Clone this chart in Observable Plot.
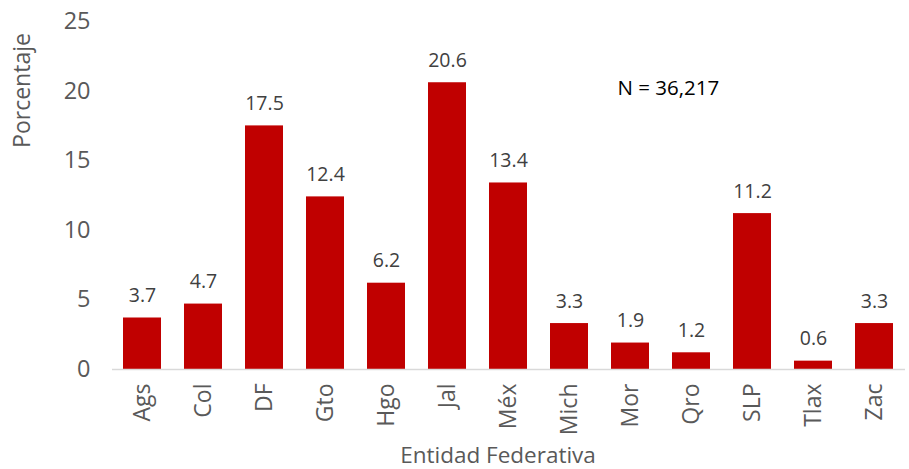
<!DOCTYPE html>
<html>
<head>
<meta charset="utf-8">
<script src="https://cdn.jsdelivr.net/npm/d3@7"></script>
<script src="https://cdn.jsdelivr.net/npm/@observablehq/plot@0.6"></script>
<style>
  html, body { margin: 0; padding: 0; background: #fff; }
  #chart svg { display: block; }
</style>
</head>
<body>
<div id="chart"></div>
<script>
const estados = ["Ags", "Col", "DF", "Gto", "Hgo", "Jal", "Méx", "Mich", "Mor", "Qro", "SLP", "Tlax", "Zac"];
const porcentajes = [3.7, 4.7, 17.5, 12.4, 6.2, 20.6, 13.4, 3.3, 1.9, 1.2, 11.2, 0.6, 3.3];
const yTicks = [0, 5, 10, 15, 20, 25];
const nLabel = "N = 36,217";
const xTitle = "Entidad Federativa";
const yTitle = "Porcentaje";

const data = estados.map((e, i) => ({estado: e, valor: porcentajes[i]}));
const font = "'Open Sans', 'Noto Sans', sans-serif";

const chart = Plot.plot({
  width: 909,
  height: 469,
  marginLeft: 112,
  marginRight: 4,
  marginTop: 21,
  marginBottom: 100,
  style: {fontFamily: font, background: "#fff"},
  x: {domain: estados, paddingInner: 0.377, paddingOuter: 0.18, label: null},
  y: {domain: [0, 25], label: null},
  marks: [
    Plot.barY(data, {x: "estado", y: "valor", fill: "#C00000"}),
    Plot.ruleY([0], {stroke: "#d9d9d9", strokeWidth: 1.5}),
    Plot.text(data, {x: "estado", y: "valor", text: d => d.valor.toFixed(1), dy: -22,
      fontSize: 19.5, fill: "#404040"}),
    Plot.axisY(yTicks, {tickSize: 0, tickPadding: 22, fontSize: 23.5, color: "#595959", label: null}),
    Plot.axisX({tickSize: 0, tickPadding: 14, tickRotate: -90, fontSize: 23, color: "#595959", label: null}),
    Plot.text([yTitle], {frameAnchor: "top-left", rotate: -90, dx: -90, dy: 69,
      textAnchor: "middle", lineAnchor: "middle", fontSize: 23, fill: "#595959"}),
    Plot.text([xTitle], {frameAnchor: "bottom", dx: -11, dy: 86,
      textAnchor: "middle", lineAnchor: "middle", fontSize: 22.5, fill: "#595959"}),
    Plot.text([nLabel], {frameAnchor: "top-left", dx: 505, dy: 67,
      textAnchor: "start", lineAnchor: "middle", fontSize: 20.5, fill: "#000"})
  ]
});
document.getElementById("chart").appendChild(chart);
</script>
</body>
</html>
